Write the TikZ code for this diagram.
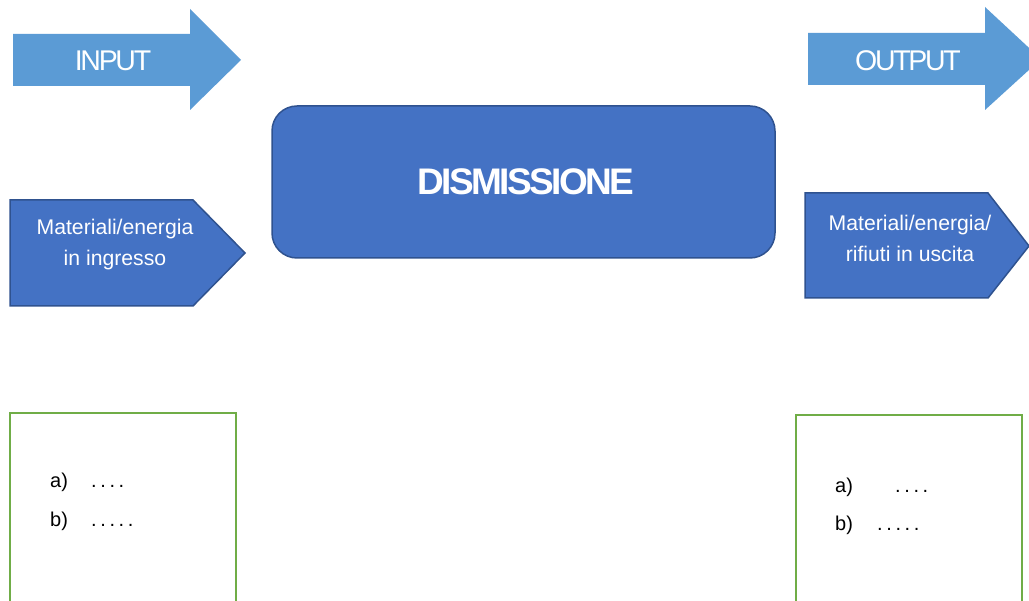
\documentclass[tikz,border=0pt]{standalone}
\usepackage{fontspec}
\setmainfont{Liberation Sans}
\newfontfamily\tightfont[LetterSpace=-8]{Liberation Sans}
\newfontfamily\tightbold[LetterSpace=-7]{Liberation Sans Bold}
\definecolor{arrowblue}{HTML}{5B9BD5}
\definecolor{boxblue}{HTML}{4472C4}
\definecolor{edgeblue}{HTML}{2F528F}
\definecolor{listgreen}{HTML}{70AD47}
% a row of spaced full stops
\newcommand{\dotrow}[1]{\foreach \k in {1,...,#1}{\ifnum\k>1\hspace{3.6pt}\fi.}}
\tikzset{
  bigarrow/.style={fill=arrowblue, draw=none},
  tagshape/.style={fill=boxblue, draw=edgeblue, line width=1.5pt, line join=miter},
  listbox/.style={draw=listgreen, line width=2.2pt},
  whitelabel/.style={text=white, inner sep=0pt, align=center},
  itemtext/.style={text=black, anchor=base west, inner sep=0pt, font=\fontsize{20}{24}\selectfont},
}
\begin{document}
\begin{tikzpicture}[x=1pt,y=-1pt]
\useasboundingbox (0,0) rectangle (1029,601);
\clip (0,0) rectangle (1029,601);

% block arrows at the top
\fill[bigarrow] (13,34) -- (190,34) -- (190,9) -- (241,60) -- (190,110) -- (190,86) -- (13,86) -- cycle;
\node[whitelabel, font=\tightfont\fontsize{28.5}{30}\selectfont] (input) at (113,61) {INPUT};

\fill[bigarrow] (808,33) -- (985,33) -- (985,7) -- (1041,59) -- (985,110) -- (985,85) -- (808,85) -- cycle;
\node[whitelabel, font=\tightfont\fontsize{28.5}{30}\selectfont] (output) at (908,61) {OUTPUT};

% pentagon tags
\draw[tagshape] (10,200) -- (193,200) -- (245,253) -- (193,306) -- (10,306) -- cycle;
\node[whitelabel, font=\fontsize{21.2}{31}\selectfont] (matin) at (115,245) {Materiali/energia\\in ingresso};

\draw[tagshape] (805,193) -- (988,193) -- (1029,246) -- (988,298) -- (805,298) -- cycle;
\node[whitelabel, font=\fontsize{21.2}{31}\selectfont] (matout) at (910,238) {Materiali/energia/\\rifiuti in uscita};

% central process box
\draw[tagshape, rounded corners=25pt] (272,106) rectangle (775,258);
\node[whitelabel, font=\tightbold\fontsize{37}{40}\selectfont] (dism) at (526,182) {DISMISSIONE};

% list boxes
\draw[listbox] (10,620) -- (10,413) -- (236,413) -- (236,620);
\node[itemtext] (la) at (50,488) {a)};
\node[itemtext] (lad) at (91,488) {\dotrow{4}};
\node[itemtext] (lb) at (50,527) {b)};
\node[itemtext] (lbd) at (91,527) {\dotrow{5}};

\draw[listbox] (796,620) -- (796,415) -- (1022,415) -- (1022,620);
\node[itemtext] (ra) at (835,493) {a)};
\node[itemtext] (rad) at (895,493) {\dotrow{4}};
\node[itemtext] (rb) at (835,531) {b)};
\node[itemtext] (rbd) at (877,531) {\dotrow{5}};
\end{tikzpicture}
\end{document}
